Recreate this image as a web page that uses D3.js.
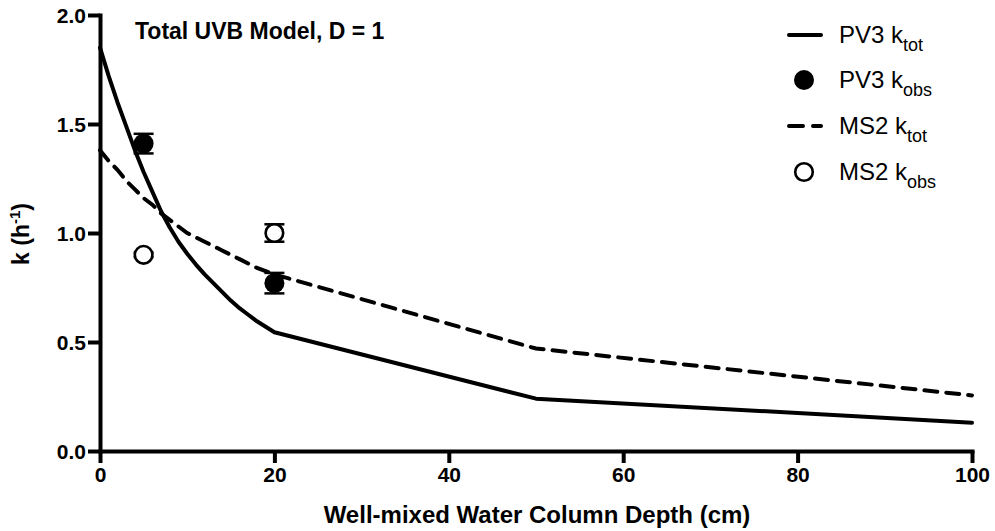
<!DOCTYPE html>
<html>
<head>
<meta charset="utf-8">
<script src="https://cdn.jsdelivr.net/npm/d3@7"></script>
<style>
  html, body { margin: 0; padding: 0; background: #fff; }
  svg { display: block; }
  text { font-family: "Liberation Sans", Arial, Helvetica, sans-serif; fill: #000; }
</style>
</head>
<body>
<svg id="chart" width="995" height="531"></svg>
<script>
// ---- data ----
const depthModel = [0,1,2,3,4,5,6,7,8,9,10,11,12,13,14,15,16,17,18,19,20,50,100];
const pv3Tot = [1.85,1.72,1.60,1.49,1.38,1.28,1.19,1.10,1.025,0.96,0.905,0.855,0.81,0.77,0.73,0.69,0.655,0.625,0.595,0.57,0.545,0.24,0.13];
const ms2Tot = [1.38,1.33,1.29,1.24,1.20,1.16,1.13,1.09,1.06,1.03,1.00,0.98,0.96,0.94,0.92,0.90,0.88,0.86,0.84,0.825,0.81,0.47,0.255];
const depthObs = [5, 20];
const pv3Obs = [1.41, 0.77];
const pv3Err = [0.045, 0.047];
const ms2Obs = [0.90, 1.00];
const ms2Err = [0.01, 0.04];
const xTicks = [0, 20, 40, 60, 80, 100];
const yTicks = [0.0, 0.5, 1.0, 1.5, 2.0];
const legendLabels = [["PV3 k","tot"],["PV3 k","obs"],["MS2 k","tot"],["MS2 k","obs"]];

// ---- layout ----
const svg = d3.select("#chart");
const x = d3.scaleLinear().domain([0, 100]).range([100, 972]);
const y = d3.scaleLinear().domain([0, 2]).range([451, 15]);

// axes
const xAxis = svg.append("g").attr("transform", "translate(0,451)")
  .call(d3.axisBottom(x).tickValues(xTicks).tickFormat(d3.format("d")).tickSize(12).tickSizeOuter(0));
const yAxis = svg.append("g").attr("transform", "translate(100,0)")
  .call(d3.axisLeft(y).tickValues(yTicks).tickFormat(d3.format(".1f")).tickSize(12).tickSizeOuter(0));
[xAxis, yAxis].forEach(g => {
  g.select(".domain").attr("stroke", "#000").attr("stroke-width", 4).attr("stroke-linecap", "square");
  g.selectAll(".tick line").attr("stroke", "#000").attr("stroke-width", 4);
  g.selectAll(".tick text").attr("font-size", 21).attr("font-weight", "bold")
    .attr("font-family", "'Liberation Sans', Arial, sans-serif").attr("fill", "#000");
  g.attr("font-family", null);
});
xAxis.selectAll(".tick text").attr("y", 16).attr("dy", "0.71em");
yAxis.selectAll(".tick text").attr("x", -14).attr("dy", "0.36em");

// axis titles
svg.append("text").attr("x", 537).attr("y", 523).attr("text-anchor", "middle")
  .attr("font-size", 24).attr("font-weight", "bold").text("Well-mixed Water Column Depth (cm)");
const yl = svg.append("text").attr("transform", "translate(29,234) rotate(-90)")
  .attr("text-anchor", "middle").attr("font-size", 23).attr("font-weight", "bold");
yl.append("tspan").text("k (h");
yl.append("tspan").attr("font-size", 15).attr("dy", -9).text("-1");
yl.append("tspan").attr("dy", 9).text(")");

// title
svg.append("text").attr("x", 135).attr("y", 39).attr("font-size", 23).attr("font-weight", "bold")
  .text("Total UVB Model, D = 1");

// lines
const lineGen = vals => d3.line().curve(d3.curveLinear).x((d, i) => x(depthModel[i])).y(d => y(d))(vals);
svg.append("path").attr("d", lineGen(pv3Tot)).attr("fill", "none").attr("stroke", "#000")
  .attr("stroke-width", 4).attr("stroke-linejoin", "round").attr("stroke-linecap", "round");
svg.append("path").attr("d", lineGen(ms2Tot)).attr("fill", "none").attr("stroke", "#000")
  .attr("stroke-width", 4).attr("stroke-dasharray", "13,9").attr("stroke-linecap", "round");

// error bars and points
function drawObs(vals, errs, filled) {
  const g = svg.append("g");
  vals.forEach((v, i) => {
    const cx = x(depthObs[i]);
    const y1 = y(v + errs[i]), y2 = y(v - errs[i]);
    g.append("line").attr("x1", cx).attr("x2", cx).attr("y1", y1).attr("y2", y2).attr("stroke", "#000").attr("stroke-width", 2);
    [y1, y2].forEach(yy => g.append("line").attr("x1", cx - 10).attr("x2", cx + 10)
      .attr("y1", yy).attr("y2", yy).attr("stroke", "#000").attr("stroke-width", 2.5));
    g.append("circle").attr("cx", cx).attr("cy", y(v)).attr("r", filled ? 10 : 8.8)
      .attr("fill", filled ? "#000" : "#fff").attr("stroke", "#000").attr("stroke-width", filled ? 0 : 2.6);
  });
}
drawObs(pv3Obs, pv3Err, true);
drawObs(ms2Obs, ms2Err, false);

// legend
const legRowY = [35, 80, 126, 172];
const lg = svg.append("g");
legendLabels.forEach((lab, i) => {
  const cy = legRowY[i];
  if (i === 0) lg.append("line").attr("x1", 789).attr("x2", 821).attr("y1", cy).attr("y2", cy)
    .attr("stroke", "#000").attr("stroke-width", 4).attr("stroke-linecap", "round");
  if (i === 2) lg.append("line").attr("x1", 789).attr("x2", 821).attr("y1", cy).attr("y2", cy)
    .attr("stroke", "#000").attr("stroke-width", 4).attr("stroke-linecap", "round").attr("stroke-dasharray", "14,10");
  if (i === 1) lg.append("circle").attr("cx", 804).attr("cy", cy).attr("r", 10).attr("fill", "#000");
  if (i === 3) lg.append("circle").attr("cx", 804).attr("cy", cy).attr("r", 8.8).attr("fill", "#fff")
    .attr("stroke", "#000").attr("stroke-width", 2.6);
  const t = lg.append("text").attr("x", 839).attr("y", cy + 8).attr("font-size", 24);
  t.append("tspan").text(lab[0]);
  t.append("tspan").attr("font-size", 18).attr("dy", 8).text(lab[1]);
});
</script>
</body>
</html>
